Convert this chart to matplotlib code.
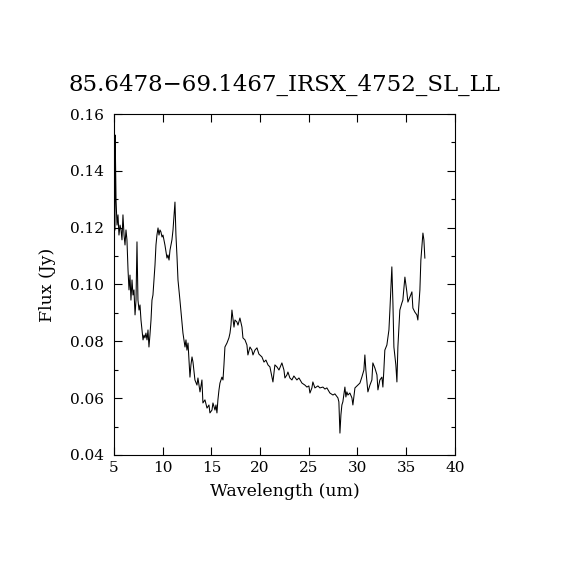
import numpy as np
import matplotlib
matplotlib.use("Agg")
import matplotlib.pyplot as plt
from matplotlib.ticker import MultipleLocator

# spectrum
wavelength = [
    5.10, 5.12, 5.21, 5.31, 5.41, 5.51, 5.62, 5.72, 5.82, 5.92,
    6.03, 6.13, 6.23, 6.33, 6.44, 6.54, 6.64, 6.74, 6.85, 6.95,
    7.05, 7.16, 7.26, 7.36, 7.46, 7.57, 7.67, 7.77, 7.87, 7.98,
    8.08, 8.18, 8.28, 8.39, 8.49, 8.59, 8.69, 8.80, 8.90, 9.00,
    9.11, 9.21, 9.31, 9.41, 9.52, 9.62, 9.72, 9.82, 9.93, 10.03,
    10.13, 10.23, 10.34, 10.44, 10.54, 10.65, 10.75, 10.95, 11.06, 11.26,
    11.36, 11.47, 11.57, 11.77, 11.98, 12.08, 12.29, 12.39, 12.49, 12.60,
    12.80, 12.90, 13.01, 13.11, 13.31, 13.52, 13.62, 13.83, 14.03, 14.13,
    14.34, 14.55, 14.75, 14.85, 15.06, 15.16, 15.37, 15.47, 15.57, 15.67,
    15.78, 15.88, 16.08, 16.19, 16.29, 16.39, 16.60, 16.80, 16.91, 17.01,
    17.11, 17.21, 17.32, 17.42, 17.62, 17.73, 17.93, 18.14, 18.24, 18.45,
    18.65, 18.75, 18.96, 19.16, 19.27, 19.47, 19.68, 19.88, 20.19, 20.40,
    20.60, 20.81, 21.01, 21.32, 21.52, 21.73, 21.94, 22.24, 22.45, 22.55,
    22.76, 22.86, 23.06, 23.27, 23.47, 23.78, 23.99, 24.30, 24.60, 24.81,
    25.01, 25.12, 25.32, 25.42, 25.63, 25.94, 26.14, 26.45, 26.66, 26.86,
    27.17, 27.48, 27.68, 27.99, 28.09, 28.20, 28.30, 28.40, 28.50, 28.71,
    28.81, 28.91, 29.02, 29.22, 29.43, 29.53, 29.74, 30.04, 30.25, 30.45,
    30.66, 30.76, 30.86, 31.07, 31.28, 31.48, 31.58, 31.79, 32.00, 32.10,
    32.30, 32.51, 32.61, 32.71, 32.81, 33.02, 33.23, 33.33, 33.53, 33.64,
    33.74, 33.94, 34.05, 34.15, 34.35, 34.56, 34.66, 34.87, 35.07, 35.18,
    35.38, 35.59, 35.69, 35.89, 36.10, 36.20, 36.41, 36.51, 36.72, 36.82,
    36.92,
]

flux = [
    0.1192, 0.1526, 0.1297, 0.1209, 0.1245, 0.1174, 0.1209, 0.1192, 0.1157, 0.1245,
    0.1174, 0.1139, 0.1192, 0.1157, 0.1051, 0.0981, 0.1033, 0.0945, 0.1016, 0.0963,
    0.0981, 0.0893, 0.0945, 0.1150, 0.0945, 0.0910, 0.0928, 0.0875, 0.0840, 0.0805,
    0.0822, 0.0812, 0.0829, 0.0805, 0.0840, 0.0780, 0.0822, 0.0875, 0.0945, 0.0963,
    0.1016, 0.1069, 0.1139, 0.1174, 0.1199, 0.1174, 0.1192, 0.1185, 0.1167, 0.1174,
    0.1157, 0.1139, 0.1114, 0.1093, 0.1104, 0.1086, 0.1121, 0.1157, 0.1192, 0.1290,
    0.1174, 0.1097, 0.1016, 0.0945, 0.0865, 0.0829, 0.0780, 0.0805, 0.0769, 0.0794,
    0.0674, 0.0717, 0.0745, 0.0727, 0.0664, 0.0646, 0.0671, 0.0622, 0.0664, 0.0583,
    0.0594, 0.0565, 0.0576, 0.0548, 0.0558, 0.0583, 0.0558, 0.0576, 0.0548, 0.0594,
    0.0629, 0.0653, 0.0674, 0.0664, 0.0717, 0.0780, 0.0794, 0.0812, 0.0829, 0.0857,
    0.0910, 0.0882, 0.0850, 0.0875, 0.0868, 0.0857, 0.0882, 0.0850, 0.0812, 0.0805,
    0.0787, 0.0752, 0.0780, 0.0769, 0.0752, 0.0769, 0.0777, 0.0755, 0.0745, 0.0727,
    0.0734, 0.0717, 0.0710, 0.0657, 0.0717, 0.0710, 0.0699, 0.0724, 0.0699, 0.0671,
    0.0682, 0.0692, 0.0671, 0.0664, 0.0678, 0.0664, 0.0671, 0.0653, 0.0646, 0.0639,
    0.0643, 0.0618, 0.0636, 0.0657, 0.0636, 0.0643, 0.0636, 0.0639, 0.0632, 0.0636,
    0.0618, 0.0611, 0.0615, 0.0601, 0.0587, 0.0477, 0.0541, 0.0576, 0.0587, 0.0639,
    0.0604, 0.0622, 0.0611, 0.0618, 0.0601, 0.0576, 0.0636, 0.0646, 0.0653, 0.0674,
    0.0699, 0.0752, 0.0699, 0.0622, 0.0646, 0.0664, 0.0724, 0.0706, 0.0682, 0.0629,
    0.0664, 0.0674, 0.0639, 0.0699, 0.0769, 0.0787, 0.0840, 0.0910, 0.1062, 0.0935,
    0.0780, 0.0717, 0.0657, 0.0780, 0.0910, 0.0935, 0.0945, 0.1026, 0.0974, 0.0938,
    0.0956, 0.0974, 0.0917, 0.0903, 0.0893, 0.0875, 0.0981, 0.1086, 0.1181, 0.1157,
    0.1093,
]

title = "85.6478\u221269.1467_IRSX_4752_SL_LL"


def main():
    plt.rcParams['font.family'] = ['DejaVu Serif']
    fig = plt.figure(figsize=(5.7, 5.7), dpi=100)
    ax = fig.add_axes([0.2, 0.2018, 0.598, 0.5982])

    ax.plot(wavelength, flux, color="black", linewidth=0.75)

    ax.set_xlim(5, 40)
    ax.set_ylim(0.04, 0.16)
    ax.xaxis.set_major_locator(MultipleLocator(5))
    ax.yaxis.set_major_locator(MultipleLocator(0.02))
    ax.yaxis.set_minor_locator(MultipleLocator(0.01))
    ax.yaxis.set_major_formatter(plt.FuncFormatter(lambda v, p: "%.2f" % v))
    ax.tick_params(which="both", direction="in", top=True, right=True,
                   labelsize=11, width=0.8, colors="black")
    ax.tick_params(axis="y", pad=7)
    ax.tick_params(axis="x", pad=4)
    ax.tick_params(which="major", length=6)
    ax.tick_params(which="minor", length=3)
    for s in ax.spines.values():
        s.set_linewidth(0.8)

    ax.set_xlabel("Wavelength (um)", fontsize=12.5, labelpad=6)
    ax.set_ylabel("Flux (Jy)", fontsize=12.5, labelpad=10)
    ax.set_title(title, fontsize=16.5, pad=17)

    plt.savefig("out.png", dpi=100)
    plt.close()


if __name__ == "__main__":
    main()
